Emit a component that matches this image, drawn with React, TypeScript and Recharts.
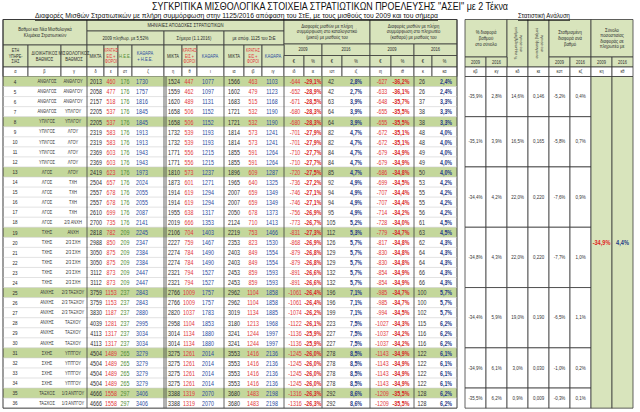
import { ComposedChart, ReferenceArea, ReferenceLine, Scatter, XAxis, YAxis } from 'recharts'

// α..κα : one entry per row of the table
const serviceYears = [4, 5, 6, 7, 8, 9, 10, 11, 12, 13, 14, 15, 16, 17, 18, 19, 20, 21, 22, 23, 24, 25, 26, 27, 28, 29, 30, 31, 32, 33, 34, 35, 36]
const ranks = [
  'ΑΝΘΛΓΟΣ', 'ΑΝΘΛΓΟΣ', 'ΑΝΘΛΓΟΣ', 'ΑΝΘΛΓΟΣ', 'ΥΠΛΓΟΣ', 'ΥΠΛΓΟΣ', 'ΥΠΛΓΟΣ', 'ΥΠΛΓΟΣ', 'ΥΠΛΓΟΣ',
  'ΛΓΟΣ', 'ΛΓΟΣ', 'ΛΓΟΣ', 'ΛΓΟΣ', 'ΛΓΟΣ', 'ΛΓΟΣ', 'ΤΧΗΣ', 'ΤΧΗΣ', 'ΤΧΗΣ', 'ΤΧΗΣ', 'ΤΧΗΣ', 'ΤΧΗΣ',
  'ΑΝΧΗΣ', 'ΑΝΧΗΣ', 'ΑΝΧΗΣ', 'ΑΝΧΗΣ', 'ΑΝΧΗΣ', 'ΑΝΧΗΣ', 'ΣΧΗΣ', 'ΣΧΗΣ', 'ΣΧΗΣ', 'ΣΧΗΣ', 'ΤΑΞΧΟΣ', 'ΤΑΞΧΟΣ',
]
const grades = [
  'ΑΝΘΛΓΟΥ', 'ΑΝΘΛΓΟΥ', 'ΑΝΘΛΓΟΥ', 'ΥΠΛΓΟΥ', 'ΥΠΛΓΟΥ', 'ΛΓΟΥ', 'ΛΓΟΥ', 'ΛΓΟΥ', 'ΛΓΟΥ', 'ΛΓΟΥ',
  'ΤΧΗ', 'ΤΧΗ', 'ΤΧΗ', 'ΤΧΗ', '2/3 ΑΝΧΗ', 'ΑΝΧΗ', '2/3 ΣΧΗ', '2/3 ΣΧΗ', '2/3 ΣΧΗ', '2/3 ΣΧΗ', '2/3 ΣΧΗ',
  '2/3 ΤΑΞΧΟΥ', '2/3 ΤΑΞΧΟΥ', '2/3 ΤΑΞΧΟΥ', 'ΤΑΞΧΟΥ', 'ΤΑΞΧΟΥ', 'ΤΑΞΧΟΥ',
  'ΥΠΤΓΟΥ', 'ΥΠΤΓΟΥ', 'ΥΠΤΓΟΥ', 'ΥΠΤΓΟΥ', '1/3 ΑΝΤΓΟΥ', '1/3 ΑΝΤΓΟΥ',
]
const gross2009 = [2013, 2058, 2157, 2205, 2205, 2319, 2319, 2369, 2369, 2419, 2504, 2557, 2557, 2610, 2700, 2818, 2988, 3050, 3050, 3112, 3112, 3759, 3759, 3830, 4039, 4113, 4113, 4504, 4504, 4504, 4504, 4666, 4666]
const deductions2009 = [460, 477, 518, 537, 537, 583, 583, 603, 603, 623, 657, 678, 678, 699, 735, 782, 850, 875, 875, 873, 873, 1153, 1153, 1187, 1281, 1317, 1317, 1489, 1489, 1489, 1489, 1558, 1558]
const allowance = [176, 176, 176, 176, 176, 176, 176, 176, 176, 176, 176, 176, 176, 176, 176, 209, 209, 209, 209, 209, 209, 237, 237, 237, 237, 237, 237, 265, 265, 265, 265, 297, 297]
const net2009 = [1730, 1757, 1816, 1845, 1845, 1913, 1913, 1943, 1943, 1973, 2024, 2055, 2055, 2087, 2141, 2245, 2347, 2384, 2384, 2447, 2447, 2843, 2843, 2880, 2995, 3034, 3034, 3279, 3279, 3279, 3279, 3406, 3406]
const grossNow = [1524, 1559, 1620, 1658, 1658, 1732, 1732, 1771, 1771, 1810, 1873, 1914, 1914, 1955, 2019, 2106, 2227, 2274, 2274, 2321, 2321, 2766, 2766, 2820, 2958, 3014, 3014, 3275, 3275, 3275, 3275, 3388, 3388]
const deductionsNow = [447, 462, 489, 506, 506, 539, 539, 556, 556, 573, 601, 619, 619, 638, 666, 704, 759, 784, 784, 794, 794, 1009, 1009, 1037, 1104, 1134, 1134, 1261, 1261, 1261, 1261, 1319, 1319]
const netNow = [1077, 1097, 1131, 1152, 1152, 1193, 1193, 1215, 1215, 1237, 1271, 1294, 1294, 1317, 1353, 1403, 1467, 1490, 1490, 1527, 1527, 1757, 1757, 1783, 1853, 1880, 1880, 2014, 2014, 2014, 2014, 2070, 2070]
const grossRuling = [1566, 1602, 1683, 1721, 1721, 1814, 1814, 1855, 1855, 1896, 1965, 2007, 2007, 2050, 2124, 2219, 2353, 2403, 2403, 2453, 2453, 2962, 2962, 3019, 3180, 3241, 3241, 3553, 3553, 3553, 3553, 3680, 3680]
const deductionsRuling = [463, 479, 515, 532, 532, 573, 573, 591, 591, 609, 640, 659, 659, 678, 710, 753, 823, 849, 849, 859, 859, 1104, 1104, 1134, 1213, 1244, 1244, 1416, 1416, 1416, 1416, 1483, 1483]
const netRuling = [1103, 1123, 1168, 1190, 1190, 1241, 1241, 1264, 1264, 1287, 1325, 1349, 1349, 1373, 1413, 1466, 1530, 1554, 1554, 1593, 1593, 1858, 1858, 1885, 1968, 1997, 1997, 2136, 2136, 2136, 2136, 2198, 2198]
const grossGap2009 = [-644, -652, -671, -680, -680, -701, -701, -710, -710, -720, -736, -746, -746, -756, -773, -831, -868, -879, -879, -891, -891, -1061, -1061, -1074, -1122, -1136, -1136, -1245, -1245, -1245, -1245, -1316, -1316]
const grossGapPct2009 = [-29.1, -28.9, -28.5, -28.3, -28.3, -27.9, -27.9, -27.7, -27.7, -27.5, -27.2, -27.1, -27.1, -26.9, -26.7, -27.3, -26.9, -26.8, -26.8, -26.6, -26.6, -26.4, -26.4, -26.2, -26.1, -25.9, -25.9, -26.0, -26.0, -26.0, -26.0, -26.3, -26.3]
const grossGap2016 = [42, 42, 63, 64, 64, 82, 82, 84, 84, 85, 92, 94, 94, 95, 105, 112, 126, 129, 129, 132, 132, 196, 196, 199, 223, 227, 227, 278, 278, 278, 278, 292, 292]
const grossGapPct2016 = [2.8, 2.7, 3.9, 3.9, 3.9, 4.7, 4.7, 4.7, 4.7, 4.7, 4.9, 4.9, 4.9, 4.9, 5.2, 5.3, 5.7, 5.7, 5.7, 5.7, 5.7, 7.1, 7.1, 7.1, 7.5, 7.5, 7.5, 8.5, 8.5, 8.5, 8.5, 8.6, 8.6]
const netGap2009 = [-627, -633, -648, -655, -655, -672, -672, -679, -679, -686, -699, -707, -707, -714, -728, -779, -817, -830, -830, -854, -854, -985, -985, -994, -1027, -1037, -1037, -1143, -1143, -1143, -1143, -1209, -1209]
const netGapPct2009 = [-36.2, -36.1, -35.7, -35.5, -35.5, -35.1, -35.1, -34.9, -34.9, -34.8, -34.5, -34.4, -34.4, -34.2, -34.0, -34.7, -34.8, -34.8, -34.8, -34.9, -34.9, -34.7, -34.7, -34.5, -34.3, -34.2, -34.2, -34.9, -34.9, -34.9, -34.9, -35.5, -35.5]
const netGap2016 = [26, 26, 37, 38, 38, 48, 48, 49, 49, 50, 53, 55, 55, 56, 61, 63, 62, 64, 64, 66, 66, 100, 100, 102, 115, 116, 116, 122, 122, 122, 122, 128, 128]
const netGapPct2016 = [2.4, 2.4, 3.3, 3.3, 3.3, 4.0, 4.0, 4.0, 4.0, 4.0, 4.2, 4.2, 4.2, 4.2, 4.5, 4.5, 4.3, 4.3, 4.3, 4.3, 4.3, 5.7, 5.7, 5.7, 6.2, 6.2, 6.2, 6.1, 6.1, 6.1, 6.1, 6.2, 6.2]
const highlightYears = [4, 8, 13, 19, 25, 31, 35]

// στατιστική ανάλυση, one entry per rank group
const groupFirstYear = [4, 8, 13, 19, 25, 31, 35]
const groupLastYear = [7, 12, 18, 24, 30, 34, 36]
const gradeGap2009 = [-35.9, -35.1, -34.4, -34.8, -34.4, -34.9, -35.5]
const gradeGap2016 = [2.8, 3.9, 4.2, 4.3, 5.9, 6.1, 6.2]
const gradeShare = [14.6, 16.5, 22.0, 22.0, 19.0, 3.0, 0.9]
const gradeWeight = [0.146, 0.165, 0.22, 0.22, 0.19, 0.03, 0.009]
const weighted2009 = [-5.2, -5.8, -7.6, -7.7, -6.5, -1.0, -0.3]
const weighted2016 = [0.4, 0.7, 0.9, 1.0, 1.1, 0.2, 0.1]
const totalGap2009 = -34.9
const totalGap2016 = 4.4

const FONT = "'Liberation Sans', Arial, sans-serif"
const INK = '#2b2b2b'
const RED = '#e2363a'
const BLUE = '#2a4b9e'
const GREEN = '#4e8a32'
const HEAD_FILL = '#d8e4bc'
const ROW_FILL = '#c4d79b'
const LINE = '#3a3a3a'

const TOP = 19.5
const SUB = 31
const COLHEAD = 45
const GAPHEAD = 44
const GAPSUB = 55.5
const LETTERS = 67
const BODY = 76.5
const ROW = 10.05
const BOTTOM = BODY + ROW * serviceYears.length
const PANEL = [465, 486, 507, 528, 549, 570, 591, 612, 633]
const PANEL_SUB = 57

const rowTop = (i: number) => BODY + ROW * i
const rowMid = (i: number) => BODY + ROW * i + ROW / 2
const comma = (v: number, d: number) => v.toFixed(d).replace('.', ',')
const pct = (v: number) => `${comma(v, 1)}%`

type Col = {
  letter: string
  x1: number
  x2: number
  x: number
  hx?: number
  head: string[]
  headTop?: number
  headColor?: string
  values: (number | string)[]
  fmt?: (v: any) => string
  color?: string
  bold?: boolean
  size?: number
}

const columns: Col[] = [
  { letter: 'α', x1: 3, x2: 28, x: 15, head: ['ΕΤΗ', 'ΥΠΗΡΕ-', 'ΣΙΑΣ'], values: serviceYears, size: 6 },
  { letter: 'β', x1: 28, x2: 61, x: 47, head: ['ΔΙΟΙΚΗΤΙΚΟΣ', 'ΒΑΘΜΟΣ'], values: ranks, size: 5.3, color: '#333' },
  { letter: 'γ', x1: 61, x2: 87, x: 73, head: ['ΜΙΣΘΟΛΟΓΙΚΟΣ', 'ΒΑΘΜΟΣ'], values: grades, size: 5.3, color: '#333' },
  { letter: 'δ', x1: 87, x2: 104, x: 96, head: ['ΜΙΚΤΑ'], values: gross2009 },
  { letter: 'ε', x1: 104, x2: 118, x: 111, head: ['ΚΡΑΤΗΣ', 'ΕΙΣ +', 'ΦΟΡΟΙ'], headColor: RED, values: deductions2009, color: RED },
  { letter: 'στ', x1: 118, x2: 132, x: 125, head: ['Η.Ε.Ε.'], headColor: GREEN, values: allowance, color: GREEN },
  { letter: 'ζ', x1: 132, x2: 164, x: 142, hx: 145, head: ['ΚΑΘΑΡΑ', '+ Η.Ε.Ε.'], headColor: BLUE, values: net2009, color: BLUE },
  { letter: 'η', x1: 164, x2: 182, x: 174, head: ['ΜΙΚΤΑ'], values: grossNow },
  { letter: 'θ', x1: 182, x2: 197, x: 189, head: ['ΚΡΑΤΗΣ', 'ΕΙΣ +', 'ΦΟΡΟΙ'], headColor: RED, values: deductionsNow, color: RED },
  { letter: 'ι', x1: 197, x2: 224, x: 208, hx: 210, head: ['ΚΑΘΑΡΑ'], headColor: BLUE, values: netNow, color: BLUE },
  { letter: 'ια', x1: 224, x2: 244, x: 234, head: ['ΜΙΚΤΑ'], values: grossRuling },
  { letter: 'ιβ', x1: 244, x2: 262, x: 253, head: ['ΚΡΑΤΗΣ', 'ΕΙΣ +', 'ΦΟΡΟΙ'], headColor: RED, values: deductionsRuling, color: RED },
  { letter: 'ιγ', x1: 262, x2: 284, x: 272, head: ['ΚΑΘΑΡΑ'], headColor: BLUE, values: netRuling, color: BLUE },
  { letter: 'ιδ', x1: 284, x2: 304, x: 295, head: ['€'], headTop: GAPSUB, values: grossGap2009, color: RED },
  { letter: 'ιε', x1: 304, x2: 322, x: 313, head: ['%'], headTop: GAPSUB, values: grossGapPct2009, fmt: pct, color: '#d91e1e', bold: true },
  { letter: 'ιστ', x1: 322, x2: 342, x: 331, head: ['€'], headTop: GAPSUB, values: grossGap2016, color: '#333' },
  { letter: 'ιζ', x1: 342, x2: 370, x: 356, head: ['%'], headTop: GAPSUB, values: grossGapPct2016, fmt: pct, color: '#1f3a86', bold: true },
  { letter: 'ιη', x1: 370, x2: 391, x: 382, head: ['€'], headTop: GAPSUB, values: netGap2009, color: RED },
  { letter: 'ιθ', x1: 391, x2: 414, x: 401, head: ['%'], headTop: GAPSUB, values: netGapPct2009, fmt: pct, color: '#d91e1e', bold: true },
  { letter: 'κ', x1: 414, x2: 432, x: 422, head: ['€'], headTop: GAPSUB, values: netGap2016, color: '#333' },
  { letter: 'κα', x1: 432, x2: 457, x: 446, head: ['%'], headTop: GAPSUB, values: netGapPct2016, fmt: pct, color: '#1f3a86', bold: true },
]

const groupHeads = [
  { x1: 3, x2: 87, y1: TOP, y2: COLHEAD, lines: ['Βαθμοί και Νέα Μισθολογικά', 'Κλιμάκια Στρατιωτικών'], size: 5.6 },
  { x1: 87, x2: 284, y1: TOP, y2: SUB, lines: ['ΜΗΝΙΑΙΕΣ  ΑΠΟΔΟΧΕΣ  ΣΤΡΑΤΙΩΤΙΚΩΝ'], size: 5.6 },
  { x1: 87, x2: 164, y1: SUB, y2: COLHEAD, lines: ['2009 πληθωρ. με  5,52%'], size: 5.6 },
  { x1: 164, x2: 224, y1: SUB, y2: COLHEAD, lines: ['Σήμερα (1.1.2016)'], size: 5.6 },
  { x1: 224, x2: 284, y1: SUB, y2: COLHEAD, lines: ['με απόφ. 1125 του ΣτΕ'], size: 5.6 },
  { x1: 284, x2: 370, y1: TOP, y2: GAPHEAD, lines: ['Διαφορές μισθών με πλήρη', 'συμμόρφωση στο καταλογιστικό', '(μικτό) με μισθούς του'], size: 5.6 },
  { x1: 284, x2: 322, y1: GAPHEAD, y2: GAPSUB, lines: ['2009'], size: 5.4 },
  { x1: 322, x2: 370, y1: GAPHEAD, y2: GAPSUB, lines: ['2016'], size: 5.4 },
  { x1: 370, x2: 457, y1: TOP, y2: GAPHEAD, lines: ['Διαφορές μισθών με πλήρη', 'συμμόρφωση στο πληρωτέο', '(καθαρό) με μισθούς του'], size: 5.6 },
  { x1: 370, x2: 414, y1: GAPHEAD, y2: GAPSUB, lines: ['2009'], size: 5.4 },
  { x1: 414, x2: 457, y1: GAPHEAD, y2: GAPSUB, lines: ['2016'], size: 5.4 },
  { x1: PANEL[0], x2: PANEL[2], y1: TOP, y2: PANEL_SUB, lines: ['% διαφορά', 'βαθμού', 'στο σύνολο'], size: 5.6 },
  { x1: PANEL[2], x2: PANEL[3], y1: TOP, y2: LETTERS, lines: ['% συμμετοχή βαθμού', 'στο σύνολο'], size: 4.4, rotate: true },
  { x1: PANEL[3], x2: PANEL[4], y1: TOP, y2: LETTERS, lines: ['συντελεστής βαθμού', 'στο σύνολο'], size: 4.4, rotate: true },
  { x1: PANEL[4], x2: PANEL[6], y1: TOP, y2: PANEL_SUB, lines: ['Σταθμισμένη', 'διαφορά ανά', 'βαθμό'], size: 5.6 },
  { x1: PANEL[6], x2: PANEL[8], y1: TOP, y2: PANEL_SUB, lines: ['Σύνολο', 'ποσοστιαίας', 'διαφοράς σε', 'πληρωτέο με'], size: 5.6 },
  ...[0, 1, 4, 5, 6, 7].map((c) => ({
    x1: PANEL[c], x2: PANEL[c + 1], y1: PANEL_SUB, y2: LETTERS, lines: [c % 2 === 0 ? '2009' : '2016'], size: 5.2,
  })),
]

const panelLetters = ['κβ', 'κγ', 'κδ', 'κε', 'κστ', 'κζ', 'κη', 'κθ']
const panelSeries = [
  { values: gradeGap2009, fmt: pct },
  { values: gradeGap2016, fmt: pct },
  { values: gradeShare, fmt: pct },
  { values: gradeWeight, fmt: (v: number) => comma(v, 3) },
  { values: weighted2009, fmt: pct },
  { values: weighted2016, fmt: pct },
]

const notes = [
  { x: 330, y: 6, lines: ['ΣΥΓΚΡΙΤΙΚΑ ΜΙΣΘΟΛΟΓΙΚΑ ΣΤΟΙΧΕΙΑ ΣΤΡΑΤΙΩΤΙΚΩΝ ΠΡΟΕΛΕΥΣΗΣ "ΑΣΕΙ" με 2 Τέκνα'], size: 10.5, len: 356, sx: 1, color: '#111' },
  { x: 236.5, y: 15.5, lines: ['Διαφορές Μισθών Στρατιωτικών με πλήρη συμμόρφωση στην 1125/2016 απόφαση του ΣτΕ, με τους μισθούς του 2009 και του σήμερα'], size: 7, len: 403, sx: 1, underline: true, color: '#111' },
  { x: 544, y: 15.5, lines: ['Στατιστική  Ανάλυση'], size: 7, len: 52, sx: 1, underline: true, color: '#111' },
]

function TextMark(p: any) {
  const d = p.payload
  const lines: string[] = d.lines
  const size = d.size ?? 7
  const lh = d.lh ?? size * 1.18
  const sx = d.sx ?? 0.76
  const y0 = -((lines.length - 1) * lh) / 2
  const rot = d.rotate ? ' rotate(-90)' : ''
  return (
    <g transform={`translate(${p.cx},${p.cy})${rot} scale(${sx},1)`}>
      {lines.map((t, k) => (
        <text
          key={k}
          x={0}
          y={y0 + k * lh}
          textAnchor='middle'
          dominantBaseline='central'
          fontSize={size}
          fontWeight={d.bold ? 700 : 400}
          fill={d.color ?? INK}
          fontFamily={FONT}
          textLength={d.len ? d.len / sx : undefined}
          lengthAdjust={d.len ? 'spacingAndGlyphs' : undefined}
          style={d.underline ? { textDecoration: 'underline' } : undefined}
        >
          {t}
        </text>
      ))}
    </g>
  )
}

const renderText = (p: any) => <TextMark {...p} />

export default function App() {
  const headCells = [
    ...groupHeads.map((h) => ({ ...h, fill: HEAD_FILL })),
    ...columns.map((c) => ({
      x1: c.x1, x2: c.x2, y1: c.headTop ?? COLHEAD, y2: LETTERS, lines: c.head,
      size: c.head.length > 2 ? 4.8 : 5.4, color: c.headColor ?? INK, fill: HEAD_FILL, hx: c.hx,
    })),
    ...columns.map((c) => ({ x1: c.x1, x2: c.x2, y1: LETTERS, y2: BODY, lines: [c.letter], size: 5.2, fill: '#fff' })),
    ...panelLetters.map((l, i) => ({ x1: PANEL[i], x2: PANEL[i + 1], y1: LETTERS, y2: BODY, lines: [l], size: 5.2, fill: '#fff' })),
  ]

  const headText = headCells.map((h: any) => ({
    x: h.hx ?? (h.x1 + h.x2) / 2,
    y: (h.y1 + h.y2) / 2,
    lines: h.lines,
    size: h.size,
    color: h.color,
    rotate: h.rotate,
    lh: h.rotate ? 5 : h.lines.length > 2 ? 5.6 : undefined,
  }))

  const groupBounds = groupFirstYear.map((first, g) => ({
    y1: rowTop(serviceYears.indexOf(first)),
    y2: rowTop(serviceYears.indexOf(groupLastYear[g])) + ROW,
  }))

  const panelText = panelSeries.flatMap((s, c) =>
    s.values.map((v, g) => ({
      x: (PANEL[c] + PANEL[c + 1]) / 2,
      y: (groupBounds[g].y1 + groupBounds[g].y2) / 2,
      lines: [s.fmt(v)],
      size: 5,
      sx: 0.9,
      color: '#333',
    })),
  )
  const totalText = [
    { x: (PANEL[6] + PANEL[7]) / 2, y: (BODY + BOTTOM) / 2, lines: [pct(totalGap2009)], size: 6.6, bold: true, color: '#e02424', sx: 0.85 },
    { x: (PANEL[7] + PANEL[8]) / 2, y: (BODY + BOTTOM) / 2, lines: [pct(totalGap2016)], size: 6.6, bold: true, color: '#1f3a86', sx: 0.85 },
  ]

  const groupLines = [87, 164, 166, 224, 284, 322, 370, 414]

  return (
    <div style={{ position: 'absolute', left: 0, top: 0, background: '#fff' }}>
      <ComposedChart width={640} height={412} margin={{ top: 0, right: 0, bottom: 0, left: 0 }}>
        <XAxis type='number' dataKey='x' domain={[0, 640]} hide allowDataOverflow />
        <YAxis type='number' dataKey='y' domain={[0, 412]} reversed hide allowDataOverflow />

        {headCells.map((h, i) => (
          <ReferenceArea key={`h${i}`} x1={h.x1} x2={h.x2} y1={h.y1} y2={h.y2} fill={h.fill} fillOpacity={1} stroke={LINE} strokeWidth={0.8} />
        ))}

        {highlightYears.map((y) => {
          const i = serviceYears.indexOf(y)
          return <ReferenceArea key={`hl${y}`} x1={3} x2={457} y1={rowTop(i)} y2={rowTop(i) + ROW} fill={ROW_FILL} fillOpacity={1} stroke='none' />
        })}
        {serviceYears.slice(1).map((y, i) => (
          <ReferenceLine key={`r${y}`} segment={[{ x: 3, y: rowTop(i + 1) }, { x: 457, y: rowTop(i + 1) }]} stroke='#cfcfcf' strokeWidth={0.6} />
        ))}
        {groupLines.map((x) => (
          <ReferenceLine key={`g${x}`} segment={[{ x, y: BODY }, { x, y: BOTTOM }]} stroke={LINE} strokeWidth={0.8} />
        ))}
        <ReferenceArea x1={3} x2={457} y1={TOP} y2={BOTTOM} fill='none' stroke={LINE} strokeWidth={1} />

        {groupBounds.flatMap((b, g) =>
          [0, 1, 2, 3, 4, 5].map((c) => (
            <ReferenceArea key={`p${g}-${c}`} x1={PANEL[c]} x2={PANEL[c + 1]} y1={b.y1} y2={b.y2} fill='#fff' fillOpacity={1} stroke={LINE} strokeWidth={0.8} />
          )),
        )}
        <ReferenceArea x1={PANEL[6]} x2={PANEL[7]} y1={BODY} y2={BOTTOM} fill={HEAD_FILL} fillOpacity={1} stroke={LINE} strokeWidth={0.8} />
        <ReferenceArea x1={PANEL[7]} x2={PANEL[8]} y1={BODY} y2={BOTTOM} fill={HEAD_FILL} fillOpacity={1} stroke={LINE} strokeWidth={0.8} />

        {columns.map((c) => (
          <Scatter
            key={c.letter}
            isAnimationActive={false}
            shape={renderText}
            data={c.values.map((v, i) => ({
              x: c.x,
              y: rowMid(i),
              lines: [c.fmt ? c.fmt(v) : String(v)],
              color: c.color,
              bold: c.bold,
              size: c.size,
            }))}
          />
        ))}
        <Scatter isAnimationActive={false} shape={renderText} data={headText} />
        <Scatter isAnimationActive={false} shape={renderText} data={panelText} />
        <Scatter isAnimationActive={false} shape={renderText} data={totalText} />
        <Scatter isAnimationActive={false} shape={renderText} data={notes} />
      </ComposedChart>
    </div>
  )
}
